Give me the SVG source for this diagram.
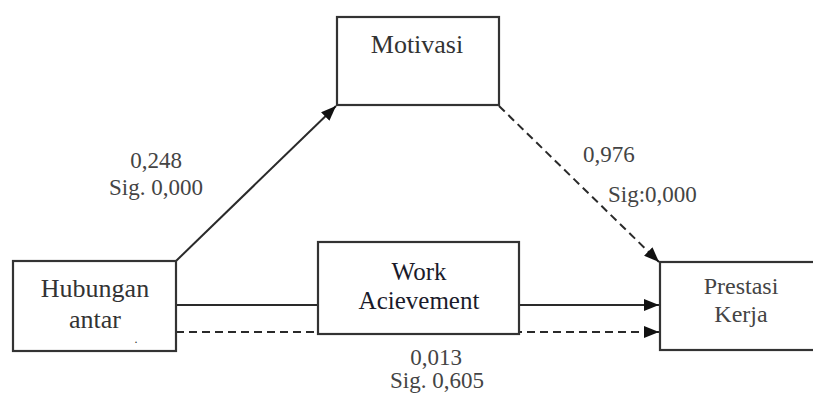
<svg xmlns="http://www.w3.org/2000/svg" width="813" height="394" viewBox="0 0 813 394">
<style>
.box{fill:#fff;stroke:#333;stroke-width:2.2}
.t{font-family:"Liberation Serif","Times New Roman",serif;fill:#333;text-anchor:middle}
.lbl{font-family:"Liberation Serif","Times New Roman",serif;fill:#444;font-size:23px}
.ln{stroke:#2a2a2a;stroke-width:2;fill:none}
.dash{stroke-dasharray:8 5}
</style>
<defs>
<marker id="ah" markerUnits="userSpaceOnUse" markerWidth="16" markerHeight="12" refX="15" refY="6" orient="auto">
<path d="M0,0 L15,6 L0,12 z" fill="#111"/>
</marker>
</defs>
<rect width="813" height="394" fill="#fff"/>
<g id="connectors">
<line class="ln" x1="176" y1="261" x2="336" y2="106" marker-end="url(#ah)"/>
<line class="ln dash" x1="499" y1="106" x2="659" y2="262" marker-end="url(#ah)"/>
<line class="ln" x1="176" y1="305" x2="318" y2="305"/>
<line class="ln" x1="519" y1="305" x2="659" y2="305" marker-end="url(#ah)"/>
<line class="ln dash" x1="176" y1="332" x2="659" y2="332" marker-end="url(#ah)"/>
</g>
<g id="motivasi">
<rect class="box" x="337" y="17" width="162" height="88"/>
<text class="t" x="417" y="53" font-size="26">Motivasi</text>
</g>
<g id="hubungan">
<rect class="box" x="13" y="261" width="163" height="90"/>
<text class="t" x="95" y="297" font-size="26">Hubungan</text>
<text class="t" x="95" y="328" font-size="26">antar</text>
<text class="t" x="136" y="343" font-size="12">.</text>
</g>
<g id="work">
<rect class="box" x="318" y="242" width="201" height="92"/>
<text class="t" x="419" y="280" font-size="25" style="fill:#1a1a2a">Work</text>
<text class="t" x="419" y="309" font-size="25" style="fill:#1a1a2a">Acievement</text>
</g>
<g id="prestasi">
<rect class="box" x="660" y="262" width="170" height="88"/>
<text class="t" x="741" y="294" font-size="24" style="fill:#444">Prestasi</text>
<text class="t" x="741" y="322" font-size="24" style="fill:#444">Kerja</text>
</g>
<g id="labels">
<text class="lbl" x="156" y="168" text-anchor="middle">0,248</text>
<text class="lbl" x="156" y="195" text-anchor="middle">Sig. 0,000</text>
<text class="lbl" x="583" y="162">0,976</text>
<text class="lbl" x="608" y="202">Sig:0,000</text>
<text class="lbl" x="436" y="365" text-anchor="middle">0,013</text>
<text class="lbl" x="437" y="388" text-anchor="middle">Sig. 0,605</text>
</g>
</svg>
